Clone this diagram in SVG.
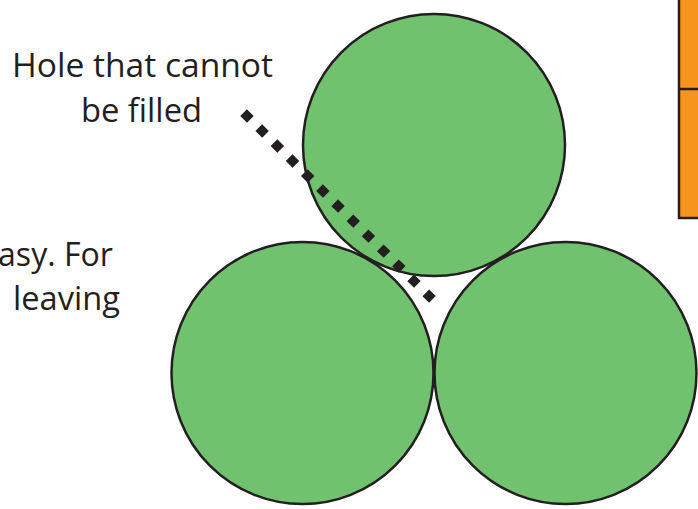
<svg xmlns="http://www.w3.org/2000/svg" width="698" height="509" viewBox="0 0 698 509">
<style>
.ball{fill:#71C26F;stroke:#231F20;stroke-width:2.5}
.lbl{font-family:"Open Sans","Liberation Sans",sans-serif;font-size:33px;fill:#231F20}
</style>
<rect width="698" height="509" fill="#fff"/>
<g id="orange-box">
<rect x="679" y="-10" width="30" height="228" fill="#F7941D" stroke="#231F20" stroke-width="2.5"/>
<line x1="679" y1="89" x2="698" y2="89" stroke="#231F20" stroke-width="2.5"/>
</g>
<g id="left-text">
<text class="lbl" x="-2" y="266" textLength="115" lengthAdjust="spacingAndGlyphs">asy. For</text>
<text class="lbl" x="13" y="310" textLength="107" lengthAdjust="spacingAndGlyphs">leaving</text>
</g>
<g id="ball-top"><circle class="ball" cx="434" cy="145" r="131"/></g>
<g id="ball-left"><circle class="ball" cx="302.5" cy="373" r="131"/></g>
<g id="ball-right"><circle class="ball" cx="565.5" cy="373" r="131"/></g>
<g id="label">
<text class="lbl" x="12" y="77" textLength="261" lengthAdjust="spacingAndGlyphs">Hole that cannot</text>
<text class="lbl" x="81" y="122" textLength="121" lengthAdjust="spacingAndGlyphs">be filled</text>
</g>
<g id="connectors">
<line x1="243.6" y1="112.7" x2="432.4" y2="299.3" stroke="#231F20" stroke-width="9.5" stroke-dasharray="9.5 11.85" fill="none"/>
</g>
</svg>
